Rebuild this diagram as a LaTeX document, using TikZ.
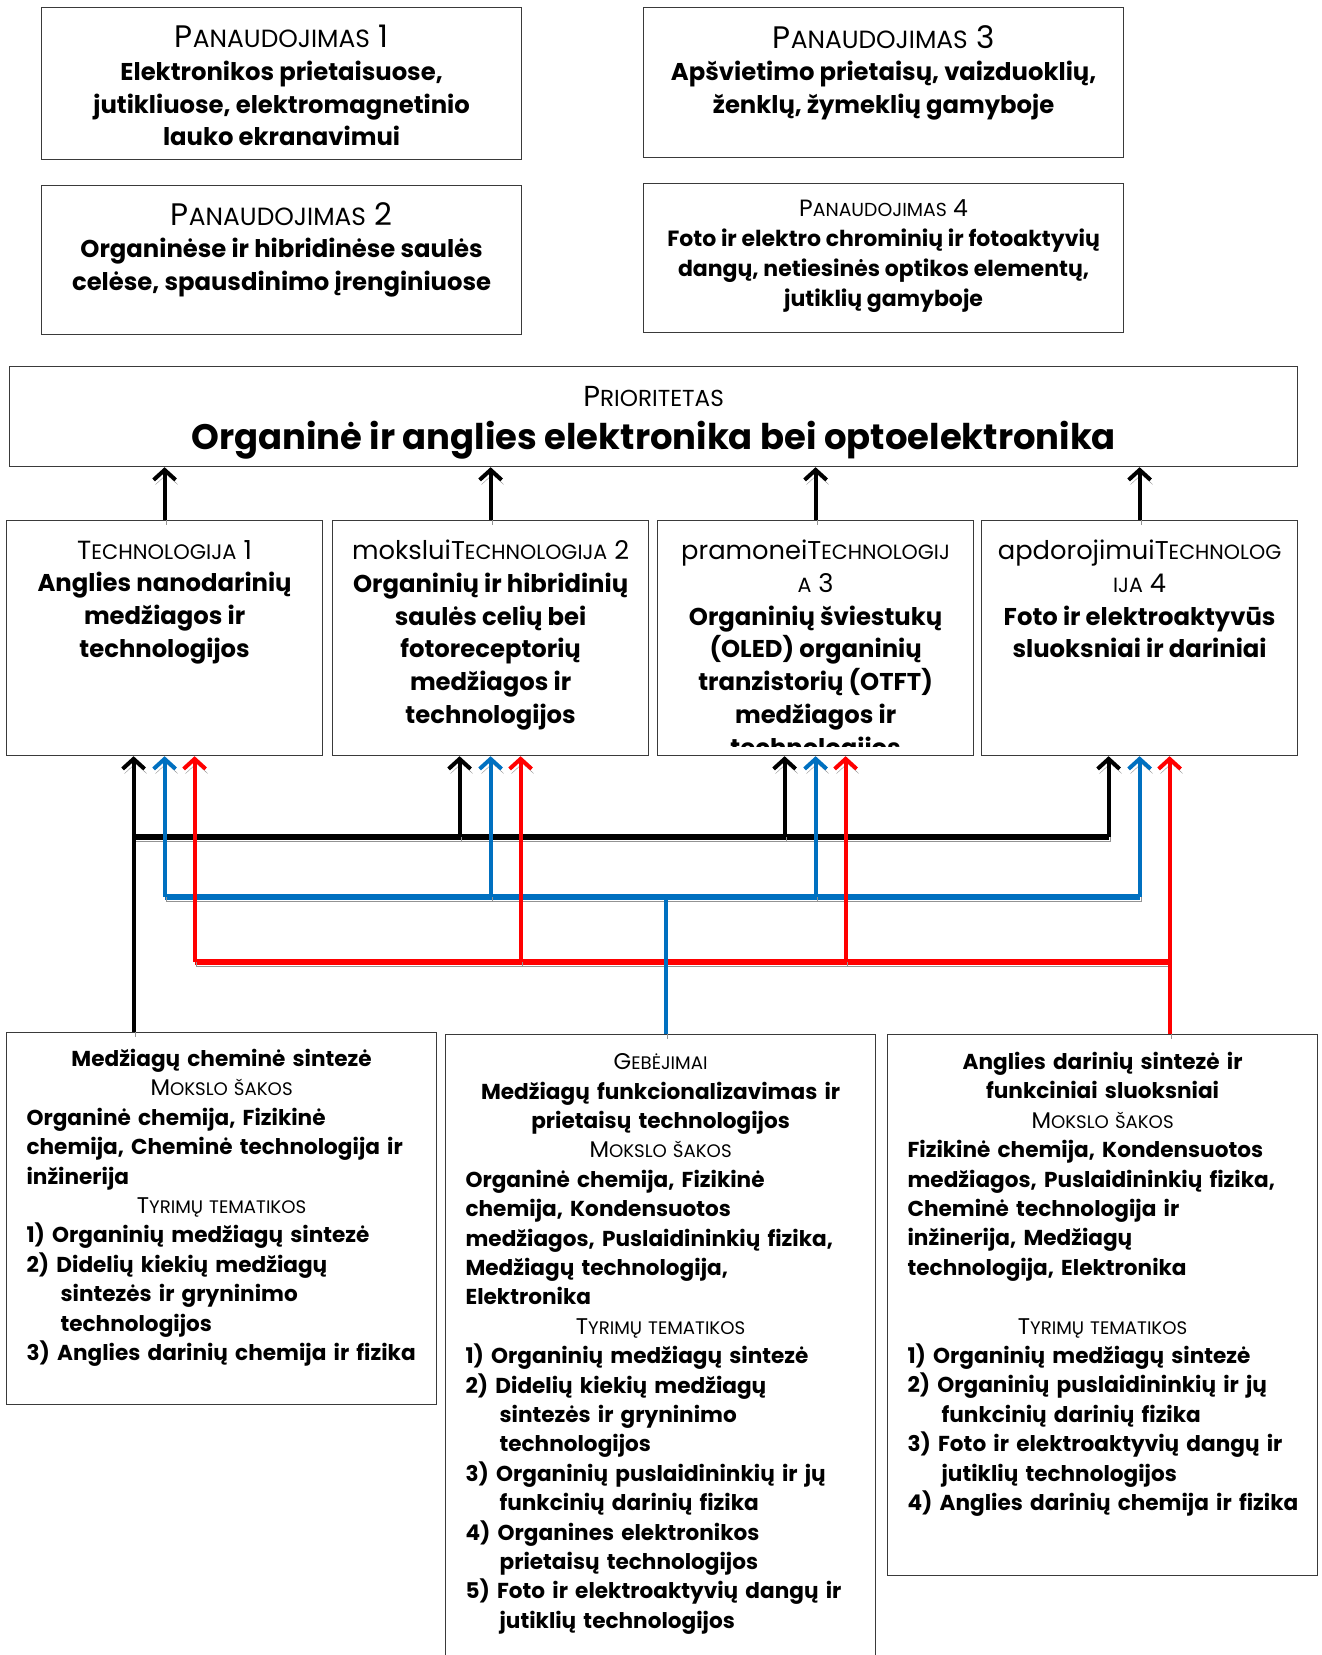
\documentclass[tikz,border=0pt]{standalone}
\usepackage{fontspec}
\setmainfont{Poppins}
\usepackage{graphicx}
\usetikzlibrary{positioning,arrows.meta}
\definecolor{kline}{HTML}{000000}
\definecolor{bline}{HTML}{0070C0}
\definecolor{rline}{HTML}{FF0000}
\definecolor{bord}{HTML}{3A3A3A}
\definecolor{shade}{HTML}{939393}
% fake small caps: [scale]{full-size part}{small part}{trailing text}
\newcommand\kap[4][1]{{\mdseries\scalebox{#1}{#2\scalebox{0.8}{#3}#4}}}
\newcommand\ctr[1]{{\centering\rightskip=20pt plus 1fil #1\par}}
\newcommand\lft[1]{{\raggedright #1\par}}
\newcommand\itm[1]{{\raggedright\hangindent=34pt\hangafter=1 #1\par}}
\tikzset{
  box/.style  = {draw=bord, line width=1.2pt, fill=white, inner sep=0pt, anchor=north west},
  txt/.style  = {inner sep=0pt, align=center, font=\fontsize{24.3}{32.7}\selectfont\bfseries},
  stxt/.style = {txt, font=\fontsize{22}{30}\selectfont\bfseries},
  ptxt/.style = {txt, font=\fontsize{24.3}{42.5}\selectfont\bfseries},
  ltxt/.style = {inner sep=0pt, align=left, text width=410pt, xshift=10pt,
                 font=\fontsize{21.6}{29.4}\selectfont\bfseries},
  shadow/.style = {preaction={draw=shade, transform canvas={shift={(2pt,-4.5pt)}}}},
  arr/.style  = {shadow, line width=4pt, -{Straight Barb[length=10pt,width=22pt]}},
  src/.style  = {shadow, line width=4pt},
  bus/.style  = {shadow, line width=6pt},
}
\begin{document}
\begin{tikzpicture}[x=1pt, y=-1pt]
\useasboundingbox (0,0) rectangle (1322,1655);

% applications
\node[box, minimum width=480, minimum height=152] (pan1) at (41,7) {};
\node[txt, below=18pt of pan1.north] (pan1t)
  {\kap[1.28]{P}{ANAUDOJIMAS}{ 1}\\Elektronikos prietaisuose,\\jutikliuose, elektromagnetinio\\lauko ekranavimui};
\node[box, minimum width=480, minimum height=149] (pan2) at (41,185) {};
\node[txt, below=17pt of pan2.north] (pan2t)
  {\kap[1.28]{P}{ANAUDOJIMAS}{ 2}\\Organinėse ir hibridinėse saulės\\celėse, spausdinimo įrenginiuose};
\node[box, minimum width=480, minimum height=150] (pan3) at (643,7) {};
\node[txt, below=18pt of pan3.north] (pan3t)
  {\kap[1.28]{P}{ANAUDOJIMAS}{ 3}\\Apšvietimo prietaisų, vaizduoklių,\\ženklų, žymeklių gamyboje};
\node[box, minimum width=480, minimum height=149] (pan4) at (643,183) {};
\node[stxt, below=16pt of pan4.north] (pan4t)
  {\kap[1.07]{P}{ANAUDOJIMAS}{ 4}\\Foto ir elektro chrominių ir fotoaktyvių\\dangų, netiesinės optikos elementų,\\jutiklių gamyboje};

% priority
\node[box, minimum width=1288, minimum height=100] (prior) at (9,366) {};
\node[ptxt, below=20.5pt of prior.north] (priort)
  {\kap[1.19]{P}{RIORITETAS}{}\\{\fontsize{35.4}{42.5}\selectfont Organinė ir anglies elektronika bei optoelektronika}};

% technologies, text clipped inside the box margin
\foreach \i/\x/\lbl in {
  1/6/{\kap[1.08]{T}{ECHNOLOGIJA}{ 1}\\Anglies nanodarinių\\medžiagos ir\\technologijos},
  2/332/{\kap[1.06]{moksluiT}{ECHNOLOGIJA}{ 2}\\Organinių ir hibridinių\\saulės celių bei\\fotoreceptorių\\medžiagos ir\\technologijos},
  3/657/{\kap[1.06]{pramoneiT}{ECHNOLOGIJ}{}\\\kap[1.06]{}{A}{ 3}\\Organinių šviestukų\\(OLED) organinių\\tranzistorių (OTFT)\\medžiagos ir\\technologijos},
  4/981/{\kap[1.06]{apdorojimuiT}{ECHNOLOG}{}\\\kap[1.06]{}{IJA}{ 4}\\Foto ir elektroaktyvūs\\sluoksniai ir dariniai}} {
  \node[box, minimum width=316, minimum height=235] (tech\i) at (\x,520) {};
  \begin{scope}
    \clip (tech\i.north west) rectangle ([yshift=10pt]tech\i.south east);
    \node[txt, below=20pt of tech\i.north] (techt\i) {\lbl};
  \end{scope}
  \draw[arr, kline] (tech\i.north) -- (tech\i.north |- prior.south);
}

% competences
\node[box, minimum width=430, minimum height=372] (chem) at (6,1032) {};
\node[ltxt, below=17pt of chem.north] (chemt) {%
  \ctr{Medžiagų cheminė sintezė}
  \ctr{\kap[1.05]{M}{OKSLO ŠAKOS}{}}
  \lft{Organinė chemija, Fizikinė\\chemija, Cheminė technologija ir\\inžinerija}
  \ctr{\kap[1.05]{T}{YRIMŲ TEMATIKOS}{}}
  \itm{1) Organinių medžiagų sintezė}
  \itm{2) Didelių kiekių medžiagų\newline sintezės ir gryninimo\newline technologijos}
  \itm{3) Anglies darinių chemija ir fizika}};

\node[box, minimum width=430, minimum height=640] (func) at (445,1034) {};
\node[ltxt, below=19.5pt of func.north] (funct) {%
  \ctr{\kap[1.05]{G}{EBĖJIMAI}{}}
  \ctr{Medžiagų funkcionalizavimas ir\\prietaisų technologijos}
  \ctr{\kap[1.05]{M}{OKSLO ŠAKOS}{}}
  \lft{Organinė chemija, Fizikinė\\chemija, Kondensuotos\\medžiagos, Puslaidininkių fizika,\\Medžiagų technologija,\\Elektronika}
  \ctr{\kap[1.05]{T}{YRIMŲ TEMATIKOS}{}}
  \itm{1) Organinių medžiagų sintezė}
  \itm{2) Didelių kiekių medžiagų\newline sintezės ir gryninimo\newline technologijos}
  \itm{3) Organinių puslaidininkių ir jų\newline funkcinių darinių fizika}
  \itm{4) Organines elektronikos\newline prietaisų technologijos}
  \itm{5) Foto ir elektroaktyvių dangų ir\newline jutiklių technologijos}};

\node[box, minimum width=430, minimum height=541] (carb) at (887,1034) {};
\node[ltxt, below=18pt of carb.north] (carbt) {%
  \ctr{Anglies darinių sintezė ir\\funkciniai sluoksniai}
  \ctr{\kap[1.05]{M}{OKSLO ŠAKOS}{}}
  \lft{Fizikinė chemija, Kondensuotos\\medžiagos, Puslaidininkių fizika,\\Cheminė technologija ir\\inžinerija, Medžiagų\\technologija, Elektronika}
  \vspace{29.4pt}
  \ctr{\kap[1.05]{T}{YRIMŲ TEMATIKOS}{}}
  \itm{1) Organinių medžiagų sintezė}
  \itm{2) Organinių puslaidininkių ir jų\newline funkcinių darinių fizika}
  \itm{3) Foto ir elektroaktyvių dangų ir\newline jutiklių technologijos}
  \itm{4) Anglies darinių chemija ir fizika}};

% three coloured links from competences to technologies
\coordinate (kbus) at (0,837);
\coordinate (bbus) at (0,897);
\coordinate (rbus) at (0,962);
\foreach \i in {1,...,4} {
  \coordinate (k\i) at ([xshift=-31pt]tech\i.south);
  \coordinate (b\i) at (tech\i.south);
  \coordinate (r\i) at ([xshift=30pt]tech\i.south);
}
\coordinate (bsrc) at ([xshift=5pt]func.north);

\draw[bus, kline] (k1 |- kbus) -- (k4 |- kbus);
\draw[bus, bline] (b1 |- bbus) -- (b4 |- bbus);
\draw[bus, rline] (r1 |- rbus) -- (r4 |- rbus);

\draw[arr, kline] (k1 |- chem.north) -- (k1);
\foreach \i in {2,3,4} { \draw[arr, kline] (k\i |- kbus) -- (k\i); }
\draw[src, bline] (bsrc) -- (bsrc |- bbus);
\foreach \i in {1,...,4} { \draw[arr, bline] (b\i |- bbus) -- (b\i); }
\draw[arr, rline] (r4 |- carb.north) -- (r4);
\foreach \i in {1,2,3} { \draw[arr, rline] (r\i |- rbus) -- (r\i); }

\end{tikzpicture}
\end{document}
